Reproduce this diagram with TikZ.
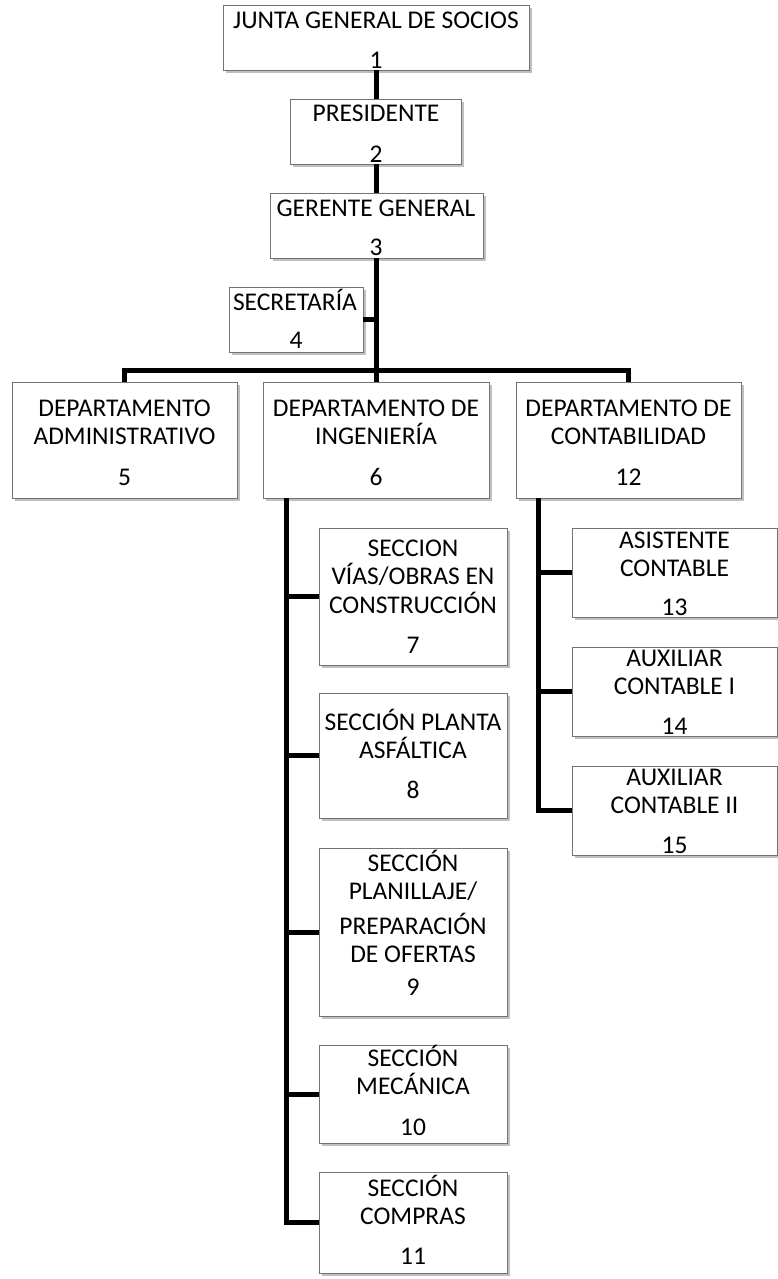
\documentclass[tikz,border=0pt]{standalone}
\usepackage{fontspec}
\setmainfont{Carlito}
\usetikzlibrary{shadows}

% Organisation chart: boxes, their titles and numbers, and the joining lines
\newcommand\orgbox[5]{%
  \node[unitbox, minimum width={#4-#2}, minimum height={#5-#3}] (#1)
    at ({(#2+#4)/2},{(#3+#5)/2}) {};}
\newcommand\orgtitle[4]{%
  \node[unittitle] (#1) at (#2,{#3-15.8}) {\rule{0pt}{24pt}#4};}
\newcommand\orgnum[4]{%
  \node[unitnum] (#1) at (#2,{#3+8.2}) {#4};}

\tikzset{
  unitbox/.style={draw=black!55, line width=0.8pt, fill=white, inner sep=0pt,
    drop shadow={shadow xshift=2.5pt, shadow yshift=-3pt, fill=black!45, opacity=0.55}},
  unittitle/.style={anchor=north, align=center, inner sep=0pt,
    font=\fontsize{25.5}{28.5}\selectfont},
  unitnum/.style={anchor=base, inner sep=0pt, font=\fontsize{25.5}{28.5}\selectfont},
  link/.style={draw=black, line width=5pt, line join=miter, line cap=rect}
}

\begin{document}
\begin{tikzpicture}[x=1pt, y=-1pt]
\useasboundingbox[fill=white] (0,0) rectangle (778,1279);

% upper levels
\orgbox{b1}{223}{5}{529}{70}
\orgbox{b2}{290}{99}{461}{164}
\orgbox{b3}{270}{193}{483}{258}
\orgbox{b4}{229}{287}{363}{352}

% departments
\orgbox{b5}{12}{382}{237}{498}
\orgbox{b6}{263}{382}{489}{498}
\orgbox{b12}{516}{382}{741}{498}

% engineering sections
\orgbox{b7}{319}{528}{507}{665}
\orgbox{b8}{319}{693}{507}{818}
\orgbox{b9}{319}{848}{507}{1016}
\orgbox{b10}{319}{1045}{507}{1143}
\orgbox{b11}{319}{1172}{507}{1273}

% accounting staff
\orgbox{b13}{572}{528}{777}{617}
\orgbox{b14}{572}{647}{777}{736}
\orgbox{b15}{572}{766}{777}{855}

% connectors
\coordinate (bar) at (376,370);
\coordinate (t6) at (286,0);
\coordinate (t12) at (538,0);
\draw[link, line cap=butt] (b1.south -| bar) -- (b2.north -| bar);
\draw[link, line cap=butt] (b2.south -| bar) -- (b3.north -| bar);
\draw[link, line cap=butt] (b3.south -| bar) -- (b6.north -| bar);
\draw[link, line cap=butt] (b4.east) -- (b4.east -| bar);
\draw[link, line cap=butt] (b5.north) -- (b5.north |- bar) -- (b12.north |- bar) -- (b12.north);
\draw[link, line cap=butt] (b6.south -| t6) |- (b11.west);
\foreach \s in {b7,b8,b9,b10}
  \draw[link, line cap=butt] (\s.west -| t6) -- (\s.west);
\draw[link, line cap=butt] (b12.south -| t12) |- (b15.west);
\foreach \s in {b13,b14}
  \draw[link, line cap=butt] (\s.west -| t12) -- (\s.west);

% texts
\orgtitle{n1}{376}{20}{JUNTA GENERAL DE SOCIOS}
\orgnum{m1}{376}{60}{1}
\orgtitle{n2}{376}{113}{PRESIDENTE}
\orgnum{m2}{376}{154}{2}
\orgtitle{n3}{376}{208}{GERENTE GENERAL}
\orgnum{m3}{376}{247}{3}
\orgtitle{n4}{295}{302}{SECRETARÍA}
\orgnum{m4}{296}{340}{4}

\orgtitle{n5}{124.5}{408}{DEPARTAMENTO\\ADMINISTRATIVO}
\orgnum{m5}{124.5}{477}{5}
\orgtitle{n6}{376}{408}{DEPARTAMENTO DE\\INGENIERÍA}
\orgnum{m6}{376}{477}{6}
\orgtitle{n12}{628.5}{408}{DEPARTAMENTO DE\\CONTABILIDAD}
\orgnum{m12}{628.5}{477}{12}

\orgtitle{n7}{413}{548}{SECCION\\VÍAS/OBRAS EN\\CONSTRUCCIÓN}
\orgnum{m7}{413}{645}{7}
\orgtitle{n8}{413}{722}{SECCIÓN PLANTA\\ASFÁLTICA}
\orgnum{m8}{413}{790}{8}
\orgtitle{n9}{413}{863}{SECCIÓN\\PLANILLAJE/\\[6pt]PREPARACIÓN\\DE OFERTAS}
\orgnum{m9}{413}{987}{9}
\orgtitle{n10}{413}{1058}{SECCIÓN\\MECÁNICA}
\orgnum{m10}{413}{1127}{10}
\orgtitle{n11}{413}{1188}{SECCIÓN\\COMPRAS}
\orgnum{m11}{413}{1256}{11}

\orgtitle{n13}{674.5}{540}{ASISTENTE\\CONTABLE}
\orgnum{m13}{674.5}{607}{13}
\orgtitle{n14}{674.5}{658}{AUXILIAR\\CONTABLE I}
\orgnum{m14}{674.5}{726}{14}
\orgtitle{n15}{674.5}{777}{AUXILIAR\\CONTABLE II}
\orgnum{m15}{674.5}{845}{15}
\end{tikzpicture}
\end{document}
